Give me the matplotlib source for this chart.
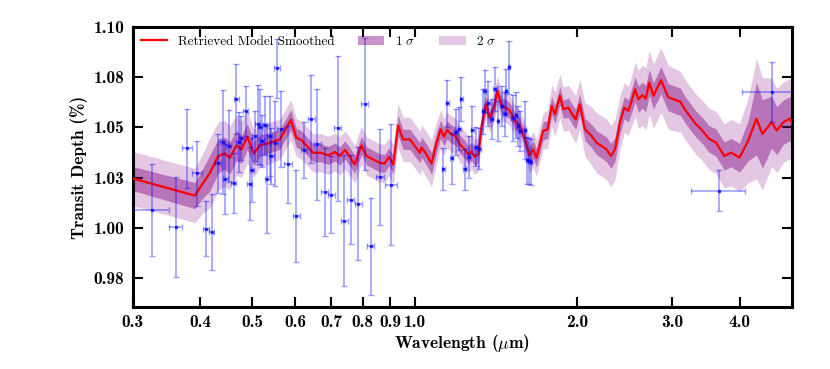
import matplotlib
matplotlib.use("Agg")
import matplotlib.pyplot as plt
import numpy as np
from matplotlib.ticker import FixedLocator, FixedFormatter, NullLocator

plt.rcParams['font.family'] = 'serif'
plt.rcParams['font.serif'] = ['cmr10']
plt.rcParams['mathtext.fontset'] = 'cm'
plt.rcParams['axes.formatter.use_mathtext'] = True

# retrieved model (smoothed) with 1 and 2 sigma half widths
wl_model = [0.300, 0.391, 0.405, 0.417, 0.432, 0.444, 0.454, 0.467, 0.477, 0.489,
            0.503, 0.516, 0.534, 0.562, 0.589, 0.603, 0.616, 0.629, 0.648, 0.671,
            0.691, 0.711, 0.726, 0.742, 0.758, 0.774, 0.796, 0.814, 0.837, 0.861,
            0.879, 0.895, 0.912, 0.931, 0.951, 0.979, 1.000, 1.022, 1.029, 1.051,
            1.074, 1.097, 1.116, 1.132, 1.148, 1.170, 1.191, 1.212, 1.238, 1.256,
            1.274, 1.292, 1.311, 1.330, 1.354, 1.377, 1.401, 1.423, 1.448, 1.475,
            1.501, 1.533, 1.566, 1.600, 1.632, 1.657, 1.681, 1.729, 1.763, 1.793,
            1.819, 1.858, 1.885, 1.926, 1.967, 1.987, 2.023, 2.067, 2.127, 2.173,
            2.220, 2.268, 2.310, 2.350, 2.400, 2.445, 2.488, 2.517, 2.561, 2.597,
            2.642, 2.681, 2.720, 2.770, 2.860, 2.950, 3.050, 3.106, 3.175, 3.315,
            3.412, 3.512, 3.615, 3.748, 3.857, 4.000, 4.148, 4.300, 4.410, 4.587,
            4.688, 4.826, 4.963, 5.000]
depth_model = [1.0245, 1.0160, 1.0223, 1.0273, 1.0357, 1.0370, 1.0348, 1.0410, 1.0390, 1.0453,
               1.0370, 1.0410, 1.0420, 1.0440, 1.0537, 1.0448, 1.0437, 1.0410, 1.0373, 1.0373,
               1.0360, 1.0377, 1.0357, 1.0387, 1.0353, 1.0315, 1.0410, 1.0357, 1.0340, 1.0323,
               1.0320, 1.0353, 1.0315, 1.0510, 1.0440, 1.0440, 1.0407, 1.0373, 1.0400, 1.0365,
               1.0320, 1.0423, 1.0490, 1.0453, 1.0487, 1.0465, 1.0457, 1.0415, 1.0390, 1.0365,
               1.0380, 1.0353, 1.0365, 1.0507, 1.0615, 1.0548, 1.0598, 1.0680, 1.0607, 1.0598,
               1.0582, 1.0532, 1.0507, 1.0440, 1.0360, 1.0390, 1.0348, 1.0482, 1.0490, 1.0607,
               1.0565, 1.0657, 1.0590, 1.0598, 1.0557, 1.0540, 1.0615, 1.0490, 1.0457, 1.0423,
               1.0407, 1.0390, 1.0357, 1.0390, 1.0523, 1.0598, 1.0582, 1.0623, 1.0690, 1.0640,
               1.0660, 1.0643, 1.0723, 1.0657, 1.0735, 1.0650, 1.0635, 1.0628, 1.0585, 1.0518,
               1.0484, 1.0442, 1.0425, 1.0357, 1.0374, 1.0349, 1.0433, 1.0543, 1.0467, 1.0526,
               1.0484, 1.0526, 1.0543, 1.0520]
sig1_model = [.0060, .0065, .0075, .0090, .0085, .0080, .0080, .0075, .0070, .0065,
              .0060, .0055, .0050, .0050, .0050, .0048, .0045, .0045, .0045, .0045,
              .0045, .0045, .0045, .0045, .0045, .0045, .0045, .0045, .0045, .0045,
              .0045, .0045, .0045, .0050, .0050, .0050, .0050, .0050, .0050, .0052,
              .0055, .0050, .0045, .0045, .0045, .0045, .0045, .0045, .0045, .0045,
              .0045, .0045, .0042, .0040, .0040, .0040, .0040, .0040, .0040, .0040,
              .0040, .0040, .0040, .0042, .0045, .0045, .0045, .0045, .0045, .0045,
              .0045, .0045, .0045, .0048, .0050, .0050, .0052, .0055, .0058, .0060,
              .0060, .0062, .0062, .0060, .0055, .0055, .0055, .0058, .0062, .0065,
              .0065, .0065, .0065, .0065, .0068, .0068, .0068, .0068, .0066, .0065,
              .0065, .0066, .0068, .0070, .0070, .0072, .0100, .0180, .0170, .0130,
              .0120, .0110, .0110, .0110]
sig2_model = [.0135, .0135, .0150, .0175, .0170, .0165, .0160, .0150, .0140, .0130,
              .0120, .0110, .0105, .0100, .0100, .0095, .0095, .0095, .0095, .0095,
              .0095, .0095, .0095, .0095, .0095, .0095, .0095, .0095, .0095, .0095,
              .0095, .0095, .0100, .0110, .0110, .0110, .0110, .0110, .0110, .0115,
              .0115, .0105, .0095, .0090, .0090, .0090, .0090, .0090, .0090, .0090,
              .0090, .0088, .0085, .0078, .0075, .0075, .0075, .0075, .0075, .0075,
              .0075, .0075, .0078, .0082, .0088, .0090, .0090, .0090, .0095, .0105,
              .0110, .0110, .0110, .0112, .0115, .0118, .0125, .0135, .0145, .0150,
              .0150, .0152, .0152, .0150, .0135, .0125, .0122, .0125, .0135, .0145,
              .0150, .0155, .0158, .0160, .0160, .0160, .0155, .0150, .0150, .0150,
              .0150, .0152, .0155, .0160, .0165, .0170, .0210, .0300, .0280, .0220,
              .0210, .0200, .0200, .0200]

# observed transit depths
wl_obs = [0.325, 0.360, 0.378, 0.395, 0.410, 0.420, 0.432, 0.440, 0.445, 0.452,
          0.462, 0.467, 0.472, 0.477, 0.486, 0.494, 0.499, 0.505, 0.511, 0.516,
          0.521, 0.527, 0.533, 0.555, 0.538, 0.542, 0.550, 0.564, 0.582, 0.603,
          0.623, 0.643, 0.660, 0.681, 0.700, 0.719, 0.740, 0.761, 0.785, 0.808,
          0.829, 0.861, 0.905,
          1.129, 1.148, 1.170, 1.190, 1.208, 1.219, 1.238, 1.259, 1.279, 1.297,
          1.316, 1.339, 1.348, 1.368, 1.388, 1.407, 1.427, 1.448, 1.468, 1.475,
          1.496, 1.518, 1.539, 1.554, 1.570, 1.600, 1.615, 1.630, 1.642,
          3.670, 4.600]
depth_obs = [1.0087, 1.0003, 1.0395, 1.0270, 0.9995, 0.9977, 1.0320, 1.0427, 1.0243, 1.0407,
             1.0223, 1.0640, 1.0427, 1.0448, 1.0580, 1.0220, 1.0287, 1.0457, 1.0515, 1.0500,
             1.0430, 1.0510, 1.0243, 1.0793, 1.0457, 1.0357, 1.0420, 1.0493, 1.0315, 1.0057,
             1.0387, 1.0540, 1.0415, 1.0178, 1.0165, 1.0495, 1.0035, 1.0140, 1.0120, 1.0615,
             0.9907, 1.0252, 1.0215,
             1.0293, 1.0620, 1.0345, 1.0477, 1.0493, 1.0640, 1.0290, 1.0353, 1.0487, 1.0403,
             1.0393, 1.0580, 1.0680, 1.0620, 1.0540, 1.0690, 1.0530, 1.0607, 1.0565, 1.0680,
             1.0798, 1.0548, 1.0560, 1.0507, 1.0480, 1.0487, 1.0335, 1.0332, 1.0327,
             1.0185, 1.0676]
depth_err = [0.0230, 0.0250, 0.0198, 0.0163, 0.0138, 0.0190, 0.0146, 0.0260, 0.0175, 0.0180,
             0.0148, 0.0173, 0.0150, 0.0110, 0.0125, 0.0180, 0.0160, 0.0125, 0.0196, 0.0190,
             0.0130, 0.0146, 0.0270, 0.0148, 0.0200, 0.0138, 0.0210, 0.0190, 0.0190, 0.0230,
             0.0140, 0.0220, 0.0275, 0.0217, 0.0190, 0.0360, 0.0325, 0.0220, 0.0280, 0.0330,
             0.0240, 0.0240, 0.0300,
             0.0106, 0.0117, 0.0125, 0.0113, 0.0108, 0.0110, 0.0100, 0.0104, 0.0120, 0.0098,
             0.0102, 0.0112, 0.0105, 0.0112, 0.0100, 0.0110, 0.0100, 0.0100, 0.0110, 0.0110,
             0.0130, 0.0115, 0.0115, 0.0100, 0.0100, 0.0145, 0.0115, 0.0115, 0.0115,
             0.0104, 0.0148]
wl_halfwidth = [0.025, 0.010, 0.0078, 0.0084, 0.005, 0.005, 0.005, 0.005, 0.005, 0.005,
                0.005, 0.005, 0.005, 0.005, 0.005, 0.005, 0.005, 0.005, 0.005, 0.005,
                0.005, 0.005, 0.005, 0.008, 0.005, 0.005, 0.008, 0.009, 0.009, 0.009,
                0.009, 0.010, 0.010, 0.010, 0.010, 0.011, 0.011, 0.011, 0.012, 0.012,
                0.012, 0.015, 0.023,
                0.008, 0.008, 0.008, 0.008, 0.008, 0.008, 0.008, 0.008, 0.008, 0.008,
                0.008, 0.008, 0.008, 0.008, 0.008, 0.008, 0.008, 0.008, 0.008, 0.008,
                0.008, 0.008, 0.008, 0.008, 0.008, 0.008, 0.008, 0.008, 0.008,
                0.420, 0.550]

xticks = [0.3, 0.4, 0.5, 0.6, 0.7, 0.8, 0.9, 1.0, 2.0, 3.0, 4.0]
xtick_labels = ['0.3', '0.4', '0.5', '0.6', '0.7', '0.8', '0.9', '1.0', '2.0', '3.0', '4.0']
yticks = [0.975, 1.0, 1.025, 1.05, 1.075, 1.1]
ytick_labels = ['0.98', '1.00', '1.03', '1.05', '1.08', '1.10']

wl = np.array(wl_model)
dm = np.array(depth_model)
s1 = np.array(sig1_model)
s2 = np.array(sig2_model)

fig = plt.figure(figsize=(8.3, 3.69), dpi=100)
ax = fig.add_axes([0.160, 0.168, 0.794, 0.759])

ax.fill_between(wl, dm - s2, dm + s2, color='purple', alpha=0.22, lw=0, label=r'2 $\sigma$', zorder=1)
ax.fill_between(wl, dm - s1, dm + s1, color='purple', alpha=0.42, lw=0, label=r'1 $\sigma$', zorder=2)
ax.plot(wl, dm, color='red', lw=1.6, label='Retrieved Model Smoothed', zorder=3)
ax.errorbar(wl_obs, depth_obs, yerr=depth_err, xerr=wl_halfwidth, fmt='s', ms=2,
            color=(0, 0, 1, 0.65), ecolor=(0, 0, 1, 0.38), elinewidth=1.2,
            capsize=2, capthick=1, zorder=4)

ax.set_xscale('log')
ax.set_xlim(0.3, 5.0)
ax.set_ylim(0.9605, 1.1)
ax.xaxis.set_major_locator(FixedLocator(xticks))
ax.xaxis.set_major_formatter(FixedFormatter(xtick_labels))
ax.xaxis.set_minor_locator(NullLocator())
ax.yaxis.set_major_locator(FixedLocator(yticks))
ax.yaxis.set_major_formatter(FixedFormatter(ytick_labels))
ax.tick_params(which='major', direction='in', length=7, width=1.5,
               top=True, right=True, pad=6)
for lab in ax.get_xticklabels() + ax.get_yticklabels():
    lab.set_fontfamily('cmb10')
    lab.set_fontsize(12.5)
for sp in ax.spines.values():
    sp.set_linewidth(2.2)

ax.set_xlabel(r'Wavelength ($\mu$m)', fontsize=12.5, family='cmb10', labelpad=1)
ax.set_ylabel('Transit Depth (%)', fontsize=12.5, family='cmb10', labelpad=4)

handles, labels = ax.get_legend_handles_labels()
order = [2, 1, 0]
ax.legend([handles[i] for i in order], [labels[i] for i in order], loc='upper left',
          ncol=3, frameon=False, fontsize=9.5, columnspacing=1.8, handlelength=2.0,
          borderaxespad=0.2)

fig.savefig('out.png', dpi=100)
